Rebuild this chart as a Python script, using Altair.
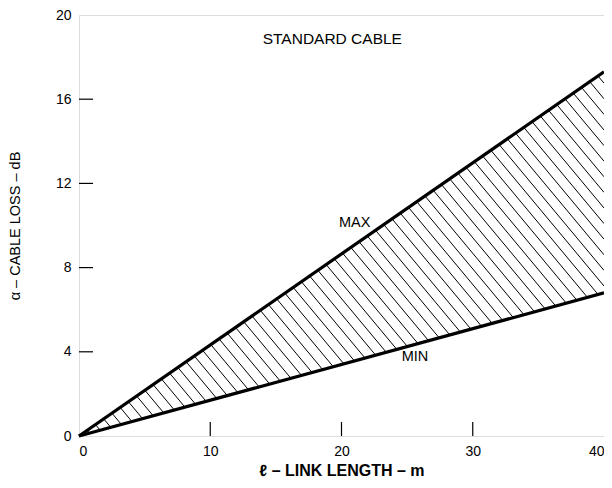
import altair as alt
import pandas as pd

# ---- data ----
length_m = [0, 40]
loss_max_db = [0, 17.3]
loss_min_db = [0, 6.8]
x_tick_values = [0, 10, 20, 30, 40]
y_tick_values = [0, 4, 8, 12, 16, 20]
x_inner_ticks = [10, 20, 30]
y_inner_ticks = [4, 8, 12, 16]
series_names = ["MAX", "MIN"]
note_texts = ["STANDARD CABLE", "MAX", "MIN"]
note_x = [19.3, 21.0, 25.6]
note_y = [18.85, 10.1, 3.75]

# ---- layout / style ----
W, H = 525, 421
X_DOM, Y_DOM = [0, 40], [0, 20]
FONT = "Liberation Sans"
HATCH_SLOPE_PX = 1.2    # hatch direction (down-right) in screen pixels
HATCH_GAP_PX = 13       # horizontal gap between hatch lines in pixels

lines_df = pd.DataFrame({
    "length": length_m + length_m,
    "loss": loss_max_db + loss_min_db,
    "series": [series_names[0]] * 2 + [series_names[1]] * 2,
})

# hatch segments derived from the two boundary lines
px_x = W / (X_DOM[1] - X_DOM[0])
px_y = H / (Y_DOM[1] - Y_DOM[0])
a = loss_max_db[1] / length_m[1]
b = loss_min_db[1] / length_m[1]
k = HATCH_SLOPE_PX * px_x / px_y
gap = HATCH_GAP_PX / px_x
rows = []
c = gap
while True:
    x1 = k * c / (a + k)
    if x1 > length_m[1]:
        break
    y1 = a * x1
    x2 = min(k * c / (b + k), length_m[1])
    y2 = -k * (x2 - c)
    rows.append({"x1": x1, "y1": y1, "x2": x2, "y2": y2})
    c += gap
hatch_df = pd.DataFrame(rows)

xscale = alt.Scale(domain=X_DOM, nice=False, zero=False)
yscale = alt.Scale(domain=Y_DOM, nice=False, zero=False)

x_axis = alt.Axis(values=x_tick_values, ticks=False, grid=False, domain=False,
                  labelFont=FONT, labelFontSize=14, labelColor="black", labelPadding=8,
                  labelFlush=True, labelOverlap=False,
                  title="ℓ – LINK LENGTH – m", titleFont=FONT, titleFontSize=16,
                  titleFontWeight="bold", titleColor="black", titlePadding=4)
y_axis = alt.Axis(values=y_tick_values, ticks=False, grid=False, domain=False,
                  labelFont=FONT, labelFontSize=14, labelColor="black", labelPadding=8,
                  labelFlush=False, labelOverlap=False,
                  title="α – CABLE LOSS – dB", titleFont=FONT, titleFontSize=14.5,
                  titleFontWeight="normal", titleColor="black", titlePadding=33)

hatch = alt.Chart(hatch_df).mark_rule(color="black", strokeWidth=1).encode(
    x=alt.X("x1:Q", scale=xscale, axis=x_axis),
    y=alt.Y("y1:Q", scale=yscale, axis=y_axis),
    x2="x2:Q", y2="y2:Q",
)

lines = alt.Chart(lines_df).mark_line(color="black", strokeWidth=3.2).encode(
    x=alt.X("length:Q", scale=xscale),
    y=alt.Y("loss:Q", scale=yscale),
    detail="series:N",
)

xt = alt.Chart(pd.DataFrame({"v": x_inner_ticks})).mark_rule(color="black", strokeWidth=1.2).encode(
    x=alt.X("v:Q", scale=xscale), y=alt.value(H), y2=alt.value(H - 14))
yt = alt.Chart(pd.DataFrame({"v": y_inner_ticks})).mark_rule(color="black", strokeWidth=1.2).encode(
    y=alt.Y("v:Q", scale=yscale), x=alt.value(0), x2=alt.value(14))

labels_df = pd.DataFrame({"text": note_texts, "lx": note_x, "ly": note_y,
                          "fs": [15.5, 14.5, 14.5]})
labels = alt.Chart(labels_df).mark_text(font=FONT, color="black").encode(
    x=alt.X("lx:Q", scale=xscale), y=alt.Y("ly:Q", scale=yscale), text="text:N",
    size=alt.Size("fs:Q", scale=None, legend=None))

chart = alt.layer(hatch, lines, xt, yt, labels).properties(
    width=W, height=H,
    autosize=alt.AutoSizeParams(type="none"),
    padding={"left": 71, "top": 7, "right": 0, "bottom": 44},
).configure_view(stroke="black", strokeWidth=2).configure(background="white")

chart.save("out.html", embed_options={"renderer": "svg", "actions": False})
